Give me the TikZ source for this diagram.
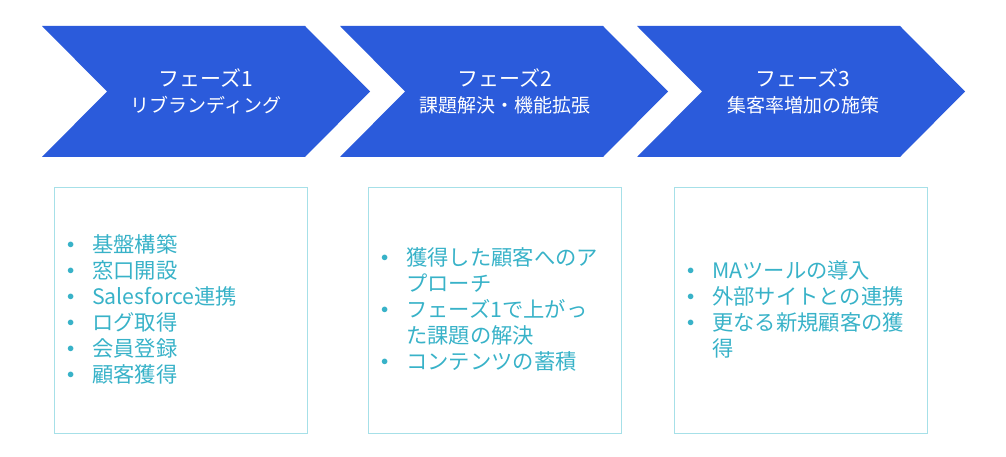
\documentclass[tikz,border=0pt]{standalone}
\usepackage{fontspec}
\setmainfont{Noto Sans CJK JP}
\usetikzlibrary{positioning}

\definecolor{phaseblue}{HTML}{2B5BDB}
\definecolor{listteal}{HTML}{38B2C8}
\definecolor{boxline}{HTML}{A6E0E8}
\newcommand{\blt}{\makebox[25pt][l]{\raisebox{4.5pt}{\fontsize{14}{14}\selectfont$\bullet$}}}

\begin{document}
\begin{tikzpicture}[x=1pt,y=-1pt,
  title/.style={text=white,font=\fontsize{21}{21}\selectfont,inner sep=0pt},
  subtitle/.style={text=white,font=\fontsize{19}{19}\selectfont,inner sep=0pt},
  listbox/.style={draw=boxline,line width=1pt,minimum width=253pt,minimum height=245pt,inner sep=0pt},
  items/.style={text=listteal,font=\fontsize{21.3}{26}\selectfont,inner sep=0pt,anchor=west}]
  \useasboundingbox (0,0) rectangle (1006,457);

  \foreach \dx in {0,298,595}
    \fill[phaseblue] (42+\dx,26) -- (305+\dx,26) -- (370+\dx,91.5) -- (305+\dx,157)
      -- (42+\dx,157) -- (107+\dx,91.5) -- cycle;

  \node[title] (title1) at (206,78) {フェーズ1};
  \node[subtitle] (sub1) at (206,105) {リブランディング};
  \node[title] (title2) at (505,78) {フェーズ2};
  \node[subtitle] (sub2) at (505,105) {課題解決・機能拡張};
  \node[title] (title3) at (803,78) {フェーズ3};
  \node[subtitle] (sub3) at (803,105) {集客率増加の施策};

  \node[listbox] (box1) at (180.5,310.5) {};
  \node[listbox] (box2) at (494.5,310.5) {};
  \node[listbox] (box3) at (800.5,310.5) {};

  \node[items] (list1) at ([xshift=13.5pt,yshift=-2pt]box1.west) {%
    \begin{tabular}{@{}l@{}l@{}}
      \blt & 基盤構築 \\
      \blt & 窓口開設 \\
      \blt & Salesforce連携 \\
      \blt & ログ取得 \\
      \blt & 会員登録 \\
      \blt & 顧客獲得
    \end{tabular}};
  \node[items] (list2) at ([xshift=13.5pt,yshift=-2pt]box2.west) {%
    \begin{tabular}{@{}l@{}l@{}}
      \blt & 獲得した顧客へのア \\
           & プローチ \\
      \blt & フェーズ1で上がっ \\
           & た課題の解決 \\
      \blt & コンテンツの蓄積
    \end{tabular}};
  \node[items] (list3) at ([xshift=13.5pt,yshift=-2pt]box3.west) {%
    \begin{tabular}{@{}l@{}l@{}}
      \blt & MAツールの導入 \\
      \blt & 外部サイトとの連携 \\
      \blt & 更なる新規顧客の獲 \\
           & 得
    \end{tabular}};
\end{tikzpicture}
\end{document}
